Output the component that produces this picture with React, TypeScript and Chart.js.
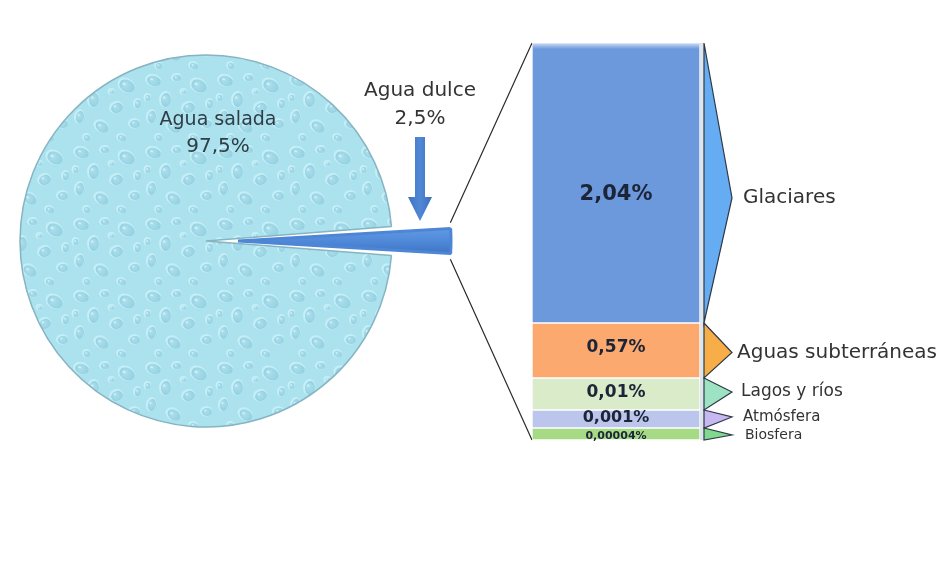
import React, { useEffect, useRef } from 'react';
import { Chart, registerables } from 'chart.js';

Chart.register(...registerables);

// ---- data ----
const pieLabels = ['Agua salada', 'Agua dulce'];
const pieValues = [97.5, 2.5];
const pieValueText = ['97,5%', '2,5%'];

const barCategories = ['Glaciares', 'Aguas subterráneas', 'Lagos y ríos', 'Atmósfera', 'Biosfera'];
const barValueText = ['2,04%', '0,57%', '0,01%', '0,001%', '0,00004%'];
// drawn (non-proportional) segment sizes
const barSegmentSizes = [280, 55, 32, 18, 12];

// ---- styles ----
const W = 946;
const H = 563;
const FONT = '"DejaVu Sans", Verdana, sans-serif';
const barFills = [
  ['#6c98dc', '#5280c4'],
  ['#fba96e', '#f08a4a'],
  ['#d9ebc8', '#c0d7a4'],
  ['#bcc6ec', '#9eabdd'],
  ['#a6da85', '#84c665'],
];
const calloutFills = ['#66acf2', '#f8ae48', '#9de2c2', '#c7b8f3', '#80d98f'];
const barLabelSizes = [21, 17, 17, 16, 11];
const barLabelDy = [12, -3, -1, -1, 2];
const calloutLabelSizes = [20, 20, 17, 15, 14];
const calloutDy = [15, 2, -2, -2, 1];
const calloutLabelDx = [11, 5, 9, 11, 13];
const SLICE_OFFSET = 128;

function makeDropPattern(): CanvasPattern | string {
  const S = 72;
  const tile = document.createElement('canvas');
  tile.width = S;
  tile.height = S;
  const t = tile.getContext('2d');
  if (!t) return '#a9e0ec';
  t.fillStyle = '#ace2ee';
  t.fillRect(0, 0, S, S);
  const drops = [
    [10, 9, 7, 5, 0.3], [33, 6, 4, 3, -0.2], [55, 14, 8, 6, 0.5], [22, 28, 5, 7, 0.1],
    [45, 36, 6, 5, -0.4], [8, 45, 4, 6, 0.2], [63, 52, 5, 4, 0.0], [30, 55, 7, 5, 0.6],
    [15, 66, 3, 3, 0], [50, 66, 4, 3, 0.3], [40, 20, 2.5, 2, 0], [66, 32, 3, 4, 0.2], [4, 26, 2.5, 3, 0],
  ];
  for (const [x, y, rx, ry, rot] of drops) {
    for (const [dx, dy] of [[0, 0], [S, 0], [-S, 0], [0, S], [0, -S]]) {
      const px = x + dx;
      const py = y + dy;
      t.fillStyle = 'rgba(200,241,248,0.85)';
      t.beginPath();
      t.ellipse(px - 0.8, py - 0.8, rx + 1.2, ry + 1.2, rot, 0, Math.PI * 2);
      t.fill();
      const g = t.createRadialGradient(px - rx * 0.3, py - ry * 0.3, 0.5, px, py, Math.max(rx, ry));
      g.addColorStop(0, '#acdfec');
      g.addColorStop(1, '#93d0e1');
      t.fillStyle = g;
      t.beginPath();
      t.ellipse(px, py, rx, ry, rot, 0, Math.PI * 2);
      t.fill();
      t.fillStyle = 'rgba(228,249,252,0.7)';
      t.beginPath();
      t.ellipse(px - rx * 0.35, py - ry * 0.35, Math.max(rx * 0.22, 0.8), Math.max(ry * 0.18, 0.8), rot, 0, Math.PI * 2);
      t.fill();
    }
  }
  const p = t.createPattern(tile, 'repeat');
  return p || '#a9e0ec';
}

function sliceCorners(pie: any) {
  const arc: any = pie.getDatasetMeta(0).data[1];
  const off = arc.options.offset || 0;
  const T = off / 4;
  const circ = arc.endAngle - arc.startAngle;
  const fix = 1 - Math.sin(Math.min(Math.PI, circ));
  const R = arc.outerRadius + T * fix;
  const mid = (arc.startAngle + arc.endAngle) / 2;
  const cx = arc.x + Math.cos(mid) * T;
  const cy = arc.y + Math.sin(mid) * T;
  return {
    a: { x: cx + R * Math.cos(arc.startAngle), y: cy + R * Math.sin(arc.startAngle) },
    b: { x: cx + R * Math.cos(arc.endAngle), y: cy + R * Math.sin(arc.endAngle) },
  };
}

export default function App() {
  const pieRef = useRef<HTMLCanvasElement>(null);
  const barRef = useRef<HTMLCanvasElement>(null);

  useEffect(() => {
    const pieCanvas = pieRef.current;
    const barCanvas = barRef.current;
    if (!pieCanvas || !barCanvas) return;
    const pattern = makeDropPattern();

    const pieTextPlugin = {
      id: 'pieText',
      afterDatasetsDraw(chart: any) {
        const ctx = chart.ctx;
        const arc0 = chart.getDatasetMeta(0).data[0];
        const cx = arc0.x;
        const cy = arc0.y;
        ctx.save();
        ctx.textAlign = 'center';
        ctx.textBaseline = 'middle';
        ctx.fillStyle = '#2e3d46';
        ctx.font = `19px ${FONT}`;
        ctx.fillText(pieLabels[0], cx + 12, cy - 121);
        ctx.font = `20px ${FONT}`;
        ctx.fillText(pieValueText[0], cx + 12, cy - 94);
        ctx.fillStyle = '#333';
        ctx.font = `20px ${FONT}`;
        ctx.fillText(pieLabels[1], cx + 214, cy - 150);
        ctx.fillText(pieValueText[1], cx + 214, cy - 122);
        // arrow
        const ax = cx + 214;
        const g = ctx.createLinearGradient(ax - 12, 0, ax + 12, 0);
        g.addColorStop(0, '#3f74c4');
        g.addColorStop(0.5, '#5088d6');
        g.addColorStop(1, '#3c6fbf');
        ctx.fillStyle = g;
        ctx.beginPath();
        ctx.moveTo(ax - 5, cy - 104);
        ctx.lineTo(ax + 5, cy - 104);
        ctx.lineTo(ax + 5, cy - 44);
        ctx.lineTo(ax + 12, cy - 44);
        ctx.lineTo(ax, cy - 20);
        ctx.lineTo(ax - 12, cy - 44);
        ctx.lineTo(ax - 5, cy - 44);
        ctx.closePath();
        ctx.fill();
        ctx.restore();
      },
    };

    const pieChart = new Chart(pieCanvas, {
      type: 'pie',
      data: {
        labels: pieLabels,
        datasets: [
          {
            data: pieValues,
            backgroundColor: (c: any) => {
              if (c.dataIndex === 0) return pattern;
              const area = c.chart.chartArea;
              if (!area) return '#4f86d4';
              const g = c.chart.ctx.createLinearGradient(0, area.top + area.height / 2 - 22, 0, area.top + area.height / 2 + 22);
              g.addColorStop(0, '#6ea7ee');
              g.addColorStop(0.55, '#4d86d6');
              g.addColorStop(1, '#2f63b2');
              return g;
            },
            borderColor: ['#86b4c2', '#4d86d6'],
            borderWidth: [1.5, 3],
            offset: [0, SLICE_OFFSET],
            hoverOffset: 0,
          } as any,
        ],
      },
      options: {
        responsive: false,
        animation: false,
        events: [],
        rotation: 90 + (pieValues[1] * 3.6) / 2,
        radius: 186,
        layout: { padding: { left: 20, right: W - 392, top: 55, bottom: H - 427 } },
        plugins: { legend: { display: false }, tooltip: { enabled: false } },
      } as any,
      plugins: [pieTextPlugin],
    });

    const n = barCategories.length;
    const order = barCategories.map((_, i) => n - 1 - i);
    const total = barSegmentSizes.reduce((s, v) => s + v, 0);

    const datasets = order.map((i) => ({
      label: barCategories[i],
      data: [barSegmentSizes[i]],
      backgroundColor: (c: any) => {
        const el = c.chart.getDatasetMeta(c.datasetIndex).data[0];
        if (!el || !isFinite(el.y) || !isFinite(el.base) || el.y === el.base) return barFills[i][0];
        const g = c.chart.ctx.createLinearGradient(0, el.y, 0, el.base);
        g.addColorStop(0, barFills[i][0]);
        g.addColorStop(1, barFills[i][1]);
        return g;
      },
      borderColor: 'rgba(255,255,255,0.7)',
      borderWidth: 1,
      borderSkipped: false,
    }));

    const calloutPlugin = {
      id: 'callouts',
      beforeDatasetsDraw(chart: any) {
        const ctx = chart.ctx;
        const topEl = chart.getDatasetMeta(n - 1).data[0];
        const botEl = chart.getDatasetMeta(0).data[0];
        const left = topEl.x - topEl.width / 2;
        const { a, b } = sliceCorners(pieChart);
        const upper = a.y < b.y ? a : b;
        const lower = a.y < b.y ? b : a;
        ctx.save();
        ctx.strokeStyle = '#2b2b2b';
        ctx.lineWidth = 1.2;
        ctx.beginPath();
        ctx.moveTo(upper.x, upper.y - 1.5);
        ctx.lineTo(left, topEl.y);
        ctx.moveTo(lower.x, lower.y + 1.5);
        ctx.lineTo(left, botEl.base);
        ctx.stroke();
        ctx.restore();
      },
      afterDatasetsDraw(chart: any) {
        const ctx = chart.ctx;
        const topEl = chart.getDatasetMeta(n - 1).data[0];
        const botEl = chart.getDatasetMeta(0).data[0];
        const right = topEl.x + topEl.width / 2;
        ctx.save();
        // top highlight
        const hg = ctx.createLinearGradient(0, topEl.y, 0, topEl.y + 6);
        hg.addColorStop(0, 'rgba(215,228,248,0.9)');
        hg.addColorStop(1, 'rgba(215,228,248,0)');
        ctx.fillStyle = hg;
        ctx.fillRect(topEl.x - topEl.width / 2, topEl.y, topEl.width, 6);
        // side strip
        ctx.fillStyle = '#dfe5ec';
        ctx.fillRect(right, topEl.y, 4, botEl.base - topEl.y);
        const sx = right + 4;
        for (let di = 0; di < n; di++) {
          const i = n - 1 - di;
          const el = chart.getDatasetMeta(di).data[0];
          const y0 = el.y;
          const y1 = el.base;
          const mid = (y0 + y1) / 2;
          const tipY = mid + calloutDy[i];
          ctx.beginPath();
          ctx.moveTo(sx, y0);
          ctx.lineTo(sx + 28, tipY);
          ctx.lineTo(sx, y1);
          ctx.closePath();
          ctx.fillStyle = calloutFills[i];
          ctx.fill();
          ctx.strokeStyle = '#2e3946';
          ctx.lineWidth = 1.2;
          ctx.stroke();
          ctx.fillStyle = '#333';
          ctx.textAlign = 'left';
          ctx.textBaseline = 'middle';
          ctx.font = `${calloutLabelSizes[i]}px ${FONT}`;
          ctx.fillText(barCategories[i], sx + 28 + calloutLabelDx[i], tipY);
          ctx.fillStyle = '#1c2538';
          ctx.textAlign = 'center';
          ctx.font = `bold ${barLabelSizes[i]}px ${FONT}`;
          ctx.fillText(barValueText[i], el.x, mid + barLabelDy[i]);
        }
        ctx.restore();
      },
    };

    const barChart = new Chart(barCanvas, {
      type: 'bar',
      data: { labels: ['Agua dulce'], datasets: datasets as any },
      options: {
        responsive: false,
        animation: false,
        events: [],
        layout: { padding: { left: 532, right: W - 700, top: 43, bottom: H - 440 } },
        scales: {
          x: { stacked: true, display: false },
          y: { stacked: true, display: false, min: 0, max: total },
        },
        datasets: { bar: { barPercentage: 1, categoryPercentage: 1 } },
        plugins: { legend: { display: false }, tooltip: { enabled: false } },
      } as any,
      plugins: [calloutPlugin],
    });

    return () => {
      barChart.destroy();
      pieChart.destroy();
    };
  }, []);

  return (
    <div style={{ position: 'absolute', left: 0, top: 0, width: W, height: H, background: '#fff' }}>
      <canvas ref={pieRef} width={W} height={H} style={{ position: 'absolute', left: 0, top: 0 }} />
      <canvas ref={barRef} width={W} height={H} style={{ position: 'absolute', left: 0, top: 0 }} />
    </div>
  );
}
